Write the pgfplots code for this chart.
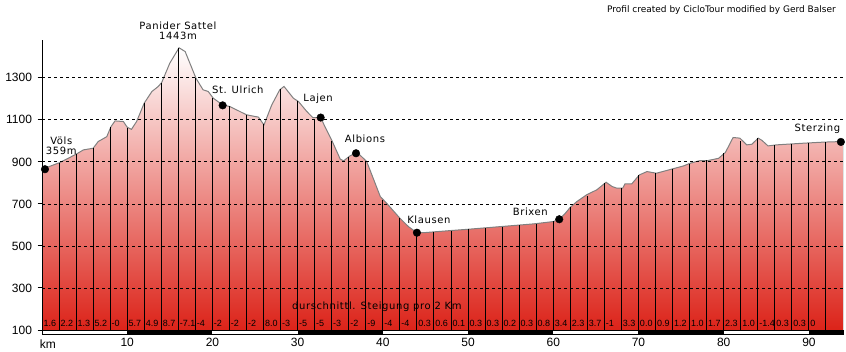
\documentclass[border=0pt]{standalone}
\usepackage{fontspec}
\setmainfont{Liberation Sans}
\newfontfamily\lbl[LetterSpace=6]{DejaVu Sans}
\newfontfamily\cred{DejaVu Sans}
\usepackage{pgfplots}
\pgfplotsset{compat=1.18}
\definecolor{redbot}{RGB}{220,35,25}
\definecolor{prof}{RGB}{128,128,128}
\definecolor{tealline}{RGB}{0,128,128}
\begin{document}
\begin{tikzpicture}
\path[use as bounding box] (0,0) rectangle (846pt,351pt);
\begin{axis}[
 at={(42pt,21pt)}, anchor=south west,
 width=801pt, height=290pt, scale only axis,
 xmin=0, xmax=94, ymin=100, ymax=1480,
 clip mode=individual,
 axis lines=left, axis line style={-, line width=1pt},
 x axis line style={draw=none},
 xtick={10,20,...,90}, xtick style={draw=none},
 ytick={100,300,...,1300},
 ytick style={line width=1pt, black},
 tick align=outside, major tick length=4.5pt,
 ymajorgrids, grid style={black, line width=0.8pt, dash pattern=on 3pt off 3pt},
 axis on top,
 /pgf/number format/assume math mode=true,
 /pgf/number format/1000 sep={},
 tick label style={font=\fontsize{12}{14}\selectfont},
 xticklabel style={yshift=0pt},
 yticklabel style={xshift=-2pt},
]
% filled profile
\addplot[draw=none, top color=white, bottom color=redbot] coordinates {
(0,100) (0,865) (2.1,897) (4.07,938) (4.85,957) (6.0,965) (6.6,997) (7.6,1020) (8.1,1068)
(8.57,1095) (9.55,1092) (10.0,1065) (10.5,1055) (11.1,1092) (12.0,1180) (12.9,1235)
(13.65,1259) (14.05,1278) (15.0,1370) (16.08,1443) (16.8,1425) (18.07,1298) (18.9,1243)
(19.5,1235) (20.1,1203) (21.2,1171) (22.07,1163) (24.0,1124) (25.4,1113) (26.05,1076)
(26.96,1171) (27.9,1243) (28.4,1259) (29.5,1203) (30.1,1187) (31.07,1140) (31.8,1110)
(32.7,1111) (33.2,1068) (34.07,997) (35.0,913) (35.4,905) (36.15,929) (36.8,941)
(37.3,933) (38.1,902) (39.7,735) (40.45,703) (42.0,632) (43.0,592) (44.0,563) (44.75,563)
(47.9,573) (50.2,580) (53.8,592) (57.7,605) (60.0,616) (60.7,627) (61.4,655) (62.0,684)
(62.76,711) (63.9,743) (65.1,767) (66.2,803) (66.9,783) (67.45,775) (68.15,775) (68.4,795)
(69.2,795) (70.1,838) (71.0,854) (72.1,846) (73.3,859) (74.3,870) (75.3,881) (76.1,894)
(77.2,906) (78.1,906) (79.4,917) (80.2,945) (81.1,1016) (81.9,1013) (82.7,981) (83.3,984)
(84.05,1013) (84.5,1002) (85.2,976) (86.2,981) (89.4,989) (91.7,994) (94,997) (94,100)};
% outline
\addplot[prof, line width=1pt] coordinates {
(0,865) (2.1,897) (4.07,938) (4.85,957) (6.0,965) (6.6,997) (7.6,1020) (8.1,1068)
(8.57,1095) (9.55,1092) (10.0,1065) (10.5,1055) (11.1,1092) (12.0,1180) (12.9,1235)
(13.65,1259) (14.05,1278) (15.0,1370) (16.08,1443) (16.8,1425) (18.07,1298) (18.9,1243)
(19.5,1235) (20.1,1203) (21.2,1171) (22.07,1163) (24.0,1124) (25.4,1113) (26.05,1076)
(26.96,1171) (27.9,1243) (28.4,1259) (29.5,1203) (30.1,1187) (31.07,1140) (31.8,1110)
(32.7,1111) (33.2,1068) (34.07,997) (35.0,913) (35.4,905) (36.15,929) (36.8,941)
(37.3,933) (38.1,902) (39.7,735) (40.45,703) (42.0,632) (43.0,592) (44.0,563) (44.75,563)
(47.9,573) (50.2,580) (53.8,592) (57.7,605) (60.0,616) (60.7,627) (61.4,655) (62.0,684)
(62.76,711) (63.9,743) (65.1,767) (66.2,803) (66.9,783) (67.45,775) (68.15,775) (68.4,795)
(69.2,795) (70.1,838) (71.0,854) (72.1,846) (73.3,859) (74.3,870) (75.3,881) (76.1,894)
(77.2,906) (78.1,906) (79.4,917) (80.2,945) (81.1,1016) (81.9,1013) (82.7,981) (83.3,984)
(84.05,1013) (84.5,1002) (85.2,976) (86.2,981) (89.4,989) (91.7,994) (94,997)};
% 2 km lines
\addplot[ycomb, black, line width=1pt, mark=none] coordinates {
(2,896) (4,936) (6,965) (8,1066) (10,1062) (12,1180) (14,1276) (16,1440) (18,1300)
(20,1205) (22,1164) (24,1124) (26,1082) (28,1246) (30,1188) (32,1105) (34,1000)
(36,925) (38,903) (40,718) (42,632) (44,563) (46,568) (48,573) (50,580) (52,586)
(54,592) (56,599) (58,605) (60,617) (62,684) (64,740) (66,799) (68,775) (70,836)
(72,846) (74,864) (76,891) (78,908) (80,940) (82,1000) (84,1012) (86,981) (88,987)
(90,991) (92,994)};
\addplot[ycomb, tealline, line width=1pt, mark=none] coordinates {(94,997)};
% places
\addplot[only marks, mark=*, mark size=3.8pt, black] coordinates {
(0.35,865) (21.2,1169) (32.7,1111) (36.85,941) (44.0,563) (60.7,627) (93.75,995)};
% gradient labels
\addplot[draw=none, mark=none, nodes near coords, point meta=explicit symbolic,
 every node near coord/.append style={anchor=base west, inner sep=0pt, xshift=1.3pt,
 font=\fontsize{9}{10}\selectfont, text=black}]
 table[meta=g] {
x y g
0 119 1.6
2 119 2.2
4 119 1.3
6 119 5.2
8 119 -0
10 119 5.7
12 119 4.9
14 119 8.7
16 119 -7.1
18 119 -4
20 119 -2
22 119 -2
24 119 -2
26 119 8.0
28 119 -3
30 119 -5
32 119 -5
34 119 -3
36 119 -2
38 119 -9
40 119 -4
42 119 -4
44 119 0.3
46 119 0.6
48 119 0.1
50 119 0.3
52 119 0.3
54 119 0.2
56 119 0.3
58 119 0.8
60 119 3.4
62 119 2.3
64 119 3.7
66 119 -1
68 119 3.3
70 119 0.0
72 119 0.9
74 119 1.2
76 119 1.0
78 119 1.7
80 119 2.3
82 119 1.0
84 119 -1.4
86 119 0.3
88 119 0.3
90 119 0
};
% scale bar
\draw[black, line width=0.8pt, fill=white] (axis cs:0,100) rectangle (axis cs:94,81);
\fill[black] (axis cs:10,100) rectangle (axis cs:20,81);
\fill[black] (axis cs:30,100) rectangle (axis cs:40,81);
\fill[black] (axis cs:50,100) rectangle (axis cs:60,81);
\fill[black] (axis cs:70,100) rectangle (axis cs:80,81);
\fill[black] (axis cs:90,100) rectangle (axis cs:94,81);
\node[anchor=north, inner sep=0pt, font=\fontsize{12}{14}\selectfont] at (axis cs:0.7,52) {km};
% labels
\begin{scope}[every node/.style={font=\lbl\fontsize{10}{10}\selectfont, align=center, inner sep=0pt}]
\node at (axis cs:15.96,1522) {Panider Sattel\\1443m};
\node at (axis cs:2.26,976) {Völs\\359m};
\node at (axis cs:22.98,1241) {St. Ulrich};
\node at (axis cs:32.4,1200) {Lajen};
\node at (axis cs:37.9,1012) {Albions};
\node at (axis cs:45.4,625) {Klausen};
\node at (axis cs:57.3,664) {Brixen};
\node at (axis cs:91.0,1057) {Sterzing};
\node at (axis cs:39.3,209) {durschnittl. Steigung pro 2 Km};
\end{scope}
\end{axis}
\node[anchor=base east, inner sep=0pt, font=\cred\fontsize{9}{9}\selectfont] at (836pt,338pt) {Profil created by CicloTour modified by Gerd Balser};
\end{tikzpicture}
\end{document}
